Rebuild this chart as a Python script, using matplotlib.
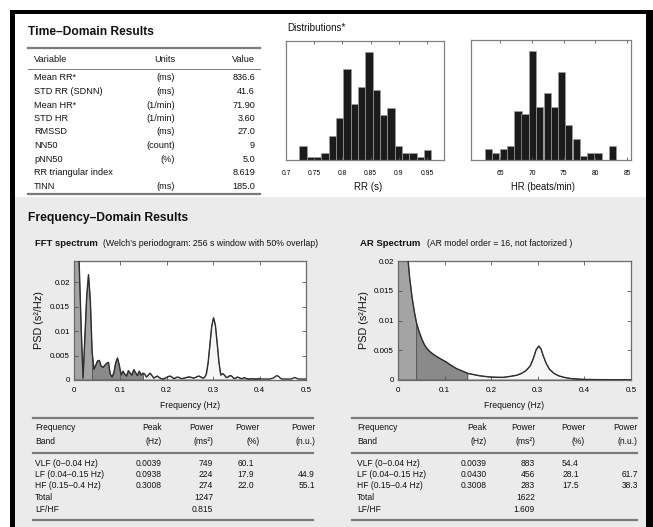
import numpy as np
import matplotlib
matplotlib.use('Agg')
import matplotlib.pyplot as plt
from matplotlib import font_manager
from matplotlib.patches import Rectangle
from matplotlib.lines import Line2D
from matplotlib.ticker import FuncFormatter

W, H = 653, 527

avail = {f.name for f in font_manager.fontManager.ttflist}
if 'Liberation Sans Narrow' in avail:
    FONT, SC = 'Liberation Sans Narrow', 1.0
else:
    FONT, SC = 'Liberation Sans', 0.82
plt.rcParams['font.family'] = [FONT, 'DejaVu Sans']

# ---------------- data ----------------
td_variables = ["Mean RR*", "STD RR (SDNN)", "Mean HR*", "STD HR", "RMSSD", "NN50",
                "pNN50", "RR triangular index", "TINN"]
td_units = ["(ms)", "(ms)", "(1/min)", "(1/min)", "(ms)", "(count)", "(%)", "", "(ms)"]
td_values = ["836.6", "41.6", "71.90", "3.60", "27.0", "9", "5.0", "8.619", "185.0"]

rr_centers = [0.730, 0.743, 0.756, 0.769, 0.782, 0.795, 0.808, 0.821, 0.834,
              0.847, 0.860, 0.873, 0.886, 0.899, 0.912, 0.925, 0.938, 0.951]
rr_counts = [4, 1, 1, 2, 7, 12, 26, 16, 21, 31, 20, 13, 15, 4, 2, 2, 1, 3]
rr_bin_width = 0.013
rr_ticks = [0.7, 0.75, 0.8, 0.85, 0.9, 0.95]

hr_centers = [63.2, 64.3, 65.5, 66.6, 67.8, 68.9, 70.1, 71.2, 72.4,
              73.5, 74.7, 75.8, 77.0, 78.1, 79.3, 80.4, 81.6, 82.7]
hr_counts = [3, 2, 3, 4, 14, 13, 31, 15, 19, 15, 25, 10, 6, 1, 2, 2, 0, 4]
hr_bin_width = 1.152
hr_ticks = [65, 70, 75, 80, 85]

# Welch FFT PSD (s^2/Hz) on a 1/256 Hz grid
fft_psd = [0.0450, 0.0600, 0.0340, 0.0219, 0.0102, 0.0004, 0.0087, 0.0170, 0.0215, 0.0164,
           0.0057, 0.0022, 0.0030, 0.0039, 0.0040, 0.0028, 0.0026, 0.0030, 0.0034, 0.0036,
           0.0012, 0.0006, 0.0015, 0.0035, 0.0045, 0.0030, 0.0010, 0.0018, 0.0012, 0.0008,
           0.0019, 0.0014, 0.0010, 0.0021, 0.0015, 0.0009, 0.0018, 0.0010, 0.0014, 0.0012,
           0.0006, 0.0010, 0.0014, 0.0009, 0.0004, 0.0006, 0.0008, 0.0005, 0.0003, 0.0002,
           0.0003, 0.0005, 0.0007, 0.0008, 0.0006, 0.0003, 0.0004, 0.0006, 0.0005, 0.0003,
           0.0003, 0.0004, 0.0005, 0.0006, 0.0006, 0.0005, 0.0004, 0.0005, 0.0007, 0.0008,
           0.0006, 0.0004, 0.0005, 0.0012, 0.0035, 0.0072, 0.0110, 0.0127, 0.0112, 0.0075,
           0.0035, 0.0010, 0.0013, 0.0010, 0.0005, 0.0006, 0.0009, 0.0008, 0.0004, 0.0003,
           0.0006, 0.0005, 0.0003, 0.0003, 0.0005, 0.0003, 0.0002, 0.0002, 0.0003, 0.0002,
           0.0002, 0.0002, 0.0003, 0.0002, 0.0002, 0.0002, 0.0002, 0.0002, 0.0002, 0.0003,
           0.0004, 0.0007, 0.0009, 0.0007, 0.0003, 0.0002, 0.0002, 0.0002, 0.0002, 0.0002,
           0.0002, 0.0004, 0.0005, 0.0003, 0.0002, 0.0002, 0.0002, 0.0002, 0.0002]
fft_df = 1.0 / 256

# AR spectrum (s^2/Hz)
ar_freq = [0.000, 0.005, 0.010, 0.015, 0.020, 0.025, 0.030, 0.035, 0.040, 0.045,
           0.050, 0.055, 0.060, 0.068, 0.076, 0.086, 0.095, 0.104, 0.115, 0.126,
           0.138, 0.150, 0.163, 0.176, 0.198, 0.215, 0.227, 0.240, 0.255, 0.265,
           0.275, 0.284, 0.290, 0.296, 0.302, 0.307, 0.312, 0.318, 0.325, 0.335,
           0.345, 0.356, 0.370, 0.385, 0.400, 0.430, 0.460, 0.500]
ar_psd = [0.0900, 0.0600, 0.0420, 0.0300, 0.0215, 0.0172, 0.0140, 0.0115, 0.0095, 0.0082,
          0.0071, 0.0062, 0.0055, 0.0048, 0.0043, 0.0038, 0.0034, 0.0030, 0.0024, 0.0019,
          0.0015, 0.0011, 0.0009, 0.0007, 0.0005, 0.00045, 0.00045, 0.0006, 0.0008, 0.0011,
          0.0016, 0.0024, 0.0035, 0.0050, 0.0057, 0.0052, 0.0040, 0.0028, 0.0018, 0.0011,
          0.0007, 0.00045, 0.00025, 0.00015, 0.0001, 0.00006, 0.00005, 0.00004]

band_limits = [(0.0, 0.04), (0.04, 0.15), (0.15, 0.4)]
band_colors = ['#a4a4a4', '#8a8a8a', '#f6f6f6']

fd_bands = ["VLF (0\u20130.04 Hz)", "LF (0.04\u20130.15 Hz)", "HF (0.15\u20130.4 Hz)", "Total", "LF/HF"]
fft_peak = ["0.0039", "0.0938", "0.3008", "", ""]
fft_power = ["749", "224", "274", "1247", "0.815"]
fft_pct = ["60.1", "17.9", "22.0", "", ""]
fft_nu = ["", "44.9", "55.1", "", ""]
ar_peak = ["0.0039", "0.0430", "0.3008", "", ""]
ar_power = ["883", "456", "283", "1622", "1.609"]
ar_pct = ["54.4", "28.1", "17.5", "", ""]
ar_nu = ["", "61.7", "38.3", "", ""]

# ---------------- figure ----------------
fig = plt.figure(figsize=(W / 100, H / 100), dpi=100)
fig.patch.set_facecolor('white')


def fx(x):
    return x / W


def fy(y):
    return 1 - y / H


def T(x, y, s, size, ha='left', weight='normal', sc=True, **kw):
    fig.text(fx(x), fy(y), s, fontsize=size * (SC if sc else 1.0), ha=ha, va='center',
             fontweight=weight, color='#111111', **kw)


def hline(x0, x1, y, lw=1.0, color='#7a7a7a'):
    fig.add_artist(Line2D([fx(x0), fx(x1)], [fy(y), fy(y)], lw=lw, color=color,
                          transform=fig.transFigure, zorder=2))


def rect(x0, y0, x1, y1, color, z=0):
    fig.add_artist(Rectangle((fx(x0), fy(y1)), (x1 - x0) / W, (y1 - y0) / H,
                             transform=fig.transFigure, facecolor=color,
                             edgecolor='none', zorder=z))


def axes_px(x0, y0, x1, y1):
    return fig.add_axes([fx(x0), fy(y1), (x1 - x0) / W, (y1 - y0) / H])


# background panels
rect(14, 197, 646, 527, '#ebebeb')
# black frame
rect(10, 10, 15, 527, 'black', z=6)
rect(10, 10, 653, 14, 'black', z=6)
rect(646, 10, 653, 527, 'black', z=6)

# ---------- Time-domain table ----------
TS = 8.0
T(28, 32, "Time\u2013Domain Results", 10.5, weight='bold')
hline(28, 260, 48, lw=1.6)
T(34, 60, "Variable", TS)
T(175, 60, "Units", TS, ha='right')
T(255, 60, "Value", TS, ha='right')
hline(28, 260, 69, lw=0.7)
for i, (v, u, val) in enumerate(zip(td_variables, td_units, td_values)):
    y = 78 + 13.5 * i
    T(34, y, v, TS)
    T(175, y, u, TS, ha='right')
    T(255, y, val, TS, ha='right')
hline(28, 260, 194, lw=1.6)

# ---------- Distributions ----------
T(287, 28, "Distributions*", 8.7)


def style_hist(ax, ticks):
    ax.set_xticks(ticks)
    ax.xaxis.set_major_formatter(FuncFormatter(lambda v, p: '%g' % v))
    ax.set_yticks([])
    ax.tick_params(axis='x', direction='in', top=True, length=2.5, width=0.6,
                   labelsize=5.9 * SC, pad=7, color='#555555')
    for s in ax.spines.values():
        s.set_color('#808080')
        s.set_linewidth(0.9)


ax1 = axes_px(286, 41, 444, 160)
ax1.bar(rr_centers, rr_counts, width=rr_bin_width, color='#1b1b1b',
        edgecolor='#9c9c9c', linewidth=0.5)
ax1.set_xlim(0.7, 0.98)
ax1.set_ylim(0, 34)
style_hist(ax1, rr_ticks)
T(368, 187, "RR (s)", 8.6, ha='center')

ax2 = axes_px(471, 40, 631, 160)
ax2.bar(hr_centers, hr_counts, width=hr_bin_width, color='#1b1b1b',
        edgecolor='#9c9c9c', linewidth=0.5)
ax2.set_xlim(60.4, 85.6)
ax2.set_ylim(0, 34)
style_hist(ax2, hr_ticks)
T(543, 187, "HR (beats/min)", 8.4, ha='center')

# ---------- Frequency domain ----------
T(28, 218, "Frequency\u2013Domain Results", 10.6, weight='bold')


def band_fill(ax, f, p):
    f = np.asarray(f)
    p = np.asarray(p)
    for (lo, hi), col in zip(band_limits, band_colors):
        inside = (f > lo) & (f < hi)
        xs = np.concatenate([[lo], f[inside], [hi]])
        ys = np.concatenate([[np.interp(lo, f, p)], p[inside], [np.interp(hi, f, p)]])
        ax.fill(np.concatenate([xs, [hi, lo]]), np.concatenate([ys, [0, 0]]),
                facecolor=col, edgecolor='#555555', linewidth=0.6, zorder=1)
    ax.plot(f, p, color='#2e2e2e', lw=1.0, zorder=3)


def style_psd(ax, ymax):
    ax.set_xlim(0, 0.5)
    ax.set_ylim(0, ymax)
    ax.set_xticks([0, 0.1, 0.2, 0.3, 0.4, 0.5])
    ax.set_yticks([0, 0.005, 0.01, 0.015, 0.02])
    fmt = FuncFormatter(lambda v, p: '%g' % v)
    ax.xaxis.set_major_formatter(fmt)
    ax.yaxis.set_major_formatter(fmt)
    ax.tick_params(direction='in', top=True, right=True, length=3, width=0.6,
                   labelsize=7.0 * SC, color='#555555')
    ax.tick_params(axis='x', pad=5)
    ax.tick_params(axis='y', pad=3)
    for s in ax.spines.values():
        s.set_color('#6a6a6a')
        s.set_linewidth(0.9)


# FFT
T(35, 244, "FFT spectrum", 8.3, weight='bold')
T(103, 244, "(Welch\u2019s periodogram: 256 s window with 50% overlap)", 7.65)
ax3 = axes_px(74, 261, 306, 380)
fft_freq = np.arange(len(fft_psd)) * fft_df
band_fill(ax3, fft_freq, fft_psd)
style_psd(ax3, 0.0243)
fig.text(fx(39), fy(320), "PSD (s\u00b2/Hz)", rotation=90, ha='center', va='center',
         fontsize=7.8, family=['Liberation Sans', 'DejaVu Sans'], color='#111111')
T(190, 405, "Frequency (Hz)", 7.6, ha='center')

# AR
T(360, 243, "AR Spectrum", 8.3, weight='bold')
T(427, 243, "(AR model order = 16, not factorized )", 7.55)
ax4 = axes_px(398, 261, 631, 380)
band_fill(ax4, ar_freq, ar_psd)
style_psd(ax4, 0.02)
fig.text(fx(364), fy(320), "PSD (s\u00b2/Hz)", rotation=90, ha='center', va='center',
         fontsize=7.8, family=['Liberation Sans', 'DejaVu Sans'], color='#111111')
T(514, 405, "Frequency (Hz)", 7.6, ha='center')


# ---------- frequency tables ----------
def freq_table(xl, x0, x1, cols, peak, power, pct, nu):
    c_peak, c_pow, c_pct, c_nu = cols
    fs = 7.5
    hline(x0, x1, 418, lw=1.6)
    T(xl, 428, "Frequency", fs)
    T(xl, 441, "Band", fs)
    T(c_peak, 428, "Peak", fs, ha='right')
    T(c_peak, 441, "(Hz)", fs, ha='right')
    T(c_pow, 428, "Power", fs, ha='right')
    T(c_pow, 442, "(ms\u00b2)", fs, ha='right')
    T(c_pct, 428, "Power", fs, ha='right')
    T(c_pct, 441, "(%)", fs, ha='right')
    T(c_nu, 428, "Power", fs, ha='right')
    T(c_nu, 441, "(n.u.)", fs, ha='right')
    hline(x0, x1, 453, lw=1.6)
    for i in range(len(fd_bands)):
        y = 463 + 11.5 * i
        T(xl, y, fd_bands[i], fs)
        T(c_peak, y, peak[i], fs, ha='right')
        T(c_pow, y, power[i], fs, ha='right')
        T(c_pct - 6, y, pct[i], fs, ha='right')
        T(c_nu, y, nu[i], fs, ha='right')
    hline(x0, x1, 520, lw=1.6)


freq_table(35, 33, 313, (162, 213, 260, 315), fft_peak, fft_power, fft_pct, fft_nu)
freq_table(357, 352, 637, (487, 535, 585, 638), ar_peak, ar_power, ar_pct, ar_nu)

fig.savefig('out.png', dpi=100, facecolor=fig.get_facecolor())
